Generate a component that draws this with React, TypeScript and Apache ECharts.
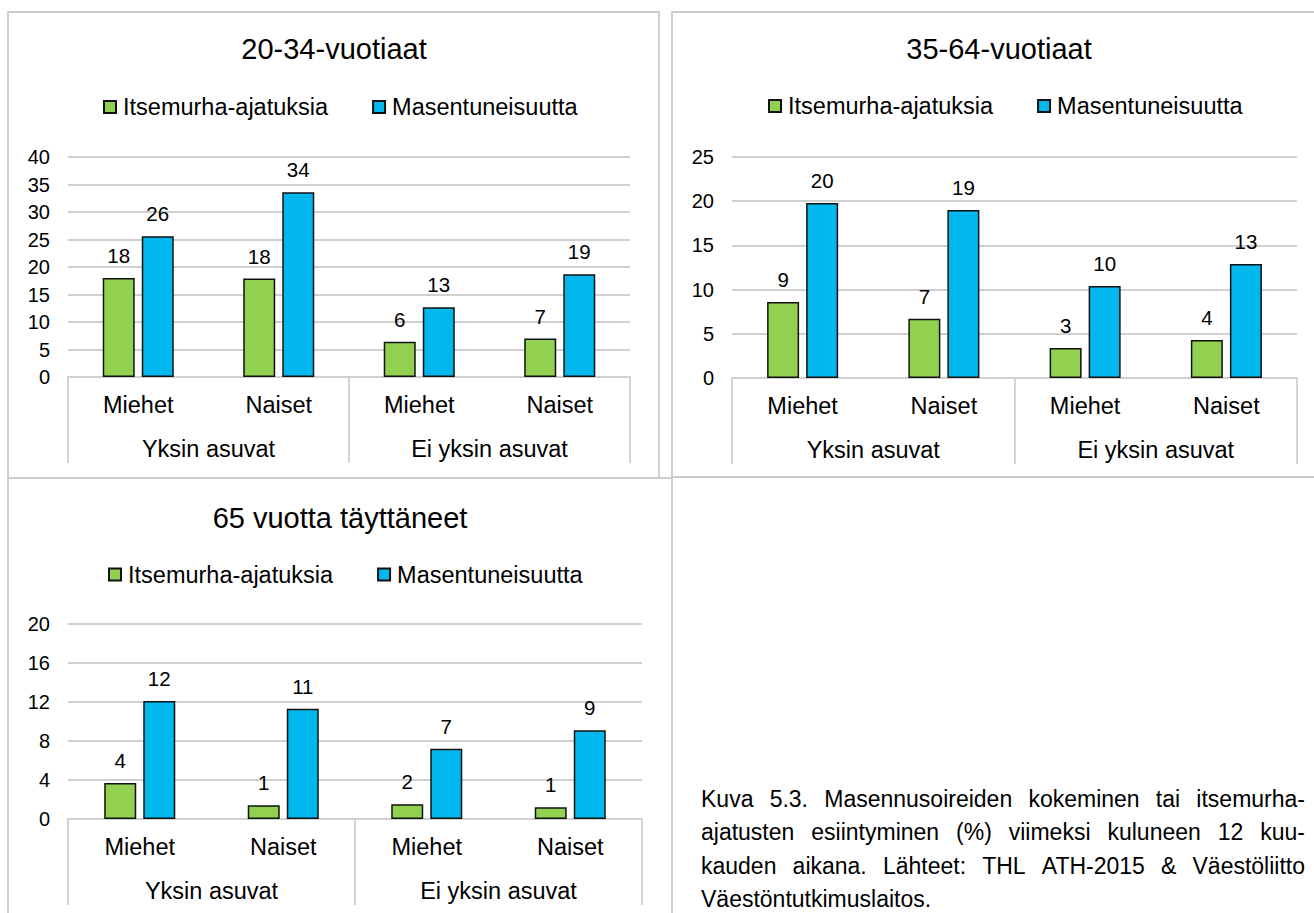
import React, { useEffect, useRef } from 'react';
import * as echarts from 'echarts';

// ---- data ----
const categories = ['Miehet', 'Naiset', 'Miehet', 'Naiset'];
const groups = ['Yksin asuvat', 'Ei yksin asuvat'];
const seriesNames = ['Itsemurha-ajatuksia', 'Masentuneisuutta'];
const panelTitles = ['20-34-vuotiaat', '35-64-vuotiaat', '65 vuotta täyttäneet'];

const suicidal2034 = [18.0, 17.9, 6.4, 7.0];
const depressed2034 = [25.6, 33.6, 12.7, 18.7];
const suicidal3564 = [8.6, 6.7, 3.4, 4.3];
const depressed3564 = [19.8, 19.0, 10.4, 12.9];
const suicidal65 = [3.7, 1.4, 1.52, 1.2];
const depressed65 = [12.1, 11.3, 7.2, 9.1];

const yMaxes = [40, 25, 20];
const yIntervals = [5, 5, 4];

const captionLines = [
  'Kuva 5.3. Masennusoireiden kokeminen tai itsemurha-',
  'ajatusten esiintyminen (%) viimeksi kuluneen 12 kuu-',
  'kauden aikana. Lähteet: THL ATH-2015 & Väestöliitto',
  'Väestöntutkimuslaitos.',
];

const GREEN = '#92D050';
const BLUE = '#00B8EE';
const GRID_GRAY = '#d0d0d0';
const BORDER_GRAY = '#cccccc';
const FONT = "'Liberation Sans', Arial, Helvetica, sans-serif";

export default function App() {
  const ref = useRef<HTMLDivElement>(null);

  useEffect(() => {
    if (!ref.current) return;
    const chart = echarts.init(ref.current, undefined, { renderer: 'svg' });

    const panelData = [
      [suicidal2034, depressed2034],
      [suicidal3564, depressed3564],
      [suicidal65, depressed65],
    ];

    const grids = [
      { left: 68, top: 157, width: 562, height: 220 },
      { left: 732, top: 157, width: 565, height: 221 },
      { left: 68, top: 624, width: 574, height: 195 },
    ];
    const titleCenters = [
      { x: 334, y: 49 },
      { x: 999, y: 49 },
      { x: 340, y: 517.5 },
    ];
    const legendPos = [
      { left: 103, y: 107 },
      { left: 768, y: 106 },
      { left: 108, y: 574.5 },
    ];

    const xAxes: any[] = [];
    const yAxes: any[] = [];
    const series: any[] = [];

    grids.forEach((g, i) => {
      xAxes.push({
        type: 'category',
        gridIndex: i,
        data: categories,
        position: 'bottom',
        axisLine: { show: true, lineStyle: { color: GRID_GRAY, width: 1.8 } },
        axisTick: { show: false },
        axisLabel: { margin: 16, fontSize: 23.5, color: '#000', fontFamily: FONT, interval: 0 },
      });
      xAxes.push({
        type: 'category',
        gridIndex: i,
        data: groups,
        position: 'bottom',
        axisLine: { show: false },
        axisTick: {
          show: true,
          length: 86,
          interval: 0,
          alignWithLabel: false,
          lineStyle: { color: GRID_GRAY, width: 1.8 },
        },
        axisLabel: { margin: 60, fontSize: 23.5, color: '#000', fontFamily: FONT, interval: 0 },
      });
      yAxes.push({
        type: 'value',
        gridIndex: i,
        min: 0,
        max: yMaxes[i],
        interval: yIntervals[i],
        axisLine: { show: false },
        axisTick: { show: false },
        splitLine: { show: true, lineStyle: { color: GRID_GRAY, width: 1.8 } },
        axisLabel: { margin: 18, fontSize: 20, color: '#000', fontFamily: FONT },
      });
      panelData[i].forEach((vals, s) => {
        series.push({
          type: 'bar',
          name: seriesNames[s],
          xAxisIndex: i * 2,
          yAxisIndex: i,
          data: vals,
          barWidth: 32,
          barGap: '22%',
          itemStyle: {
            color: s === 0 ? GREEN : BLUE,
            borderColor: '#111',
            borderWidth: 1.5,
          },
          label: {
            show: true,
            position: 'top',
            distance: 12,
            fontSize: 20.5,
            color: '#000',
            fontFamily: FONT,
            formatter: (p: any) => String(Math.round(p.value)),
          },
        });
      });
    });

    // caption (justified)
    const ctx = document.createElement('canvas').getContext('2d')!;
    const capSize = 23;
    ctx.font = `${capSize}px 'Liberation Sans'`;
    const capLeft = 701;
    const capWidth = 604;
    const capY = [798.5, 832, 865.5, 898.5];
    const captionEls: any[] = [];
    captionLines.forEach((line, li) => {
      if (li < captionLines.length - 1) {
        const words = line.split(' ');
        const ws = words.map((w) => ctx.measureText(w).width);
        const sum = ws.reduce((a, b) => a + b, 0);
        const gap = (capWidth - sum) / (words.length - 1);
        let x = capLeft;
        words.forEach((w, wi) => {
          captionEls.push({
            type: 'text',
            x,
            y: capY[li],
            silent: true,
            style: {
              text: w,
              fontSize: capSize,
              fontFamily: FONT,
              fill: '#000',
              textAlign: 'left',
              textVerticalAlign: 'middle',
            },
          });
          x += ws[wi] + gap;
        });
      } else {
        captionEls.push({
          type: 'text',
          x: capLeft,
          y: capY[li],
          silent: true,
          style: {
            text: line,
            fontSize: capSize,
            fontFamily: FONT,
            fill: '#000',
            textAlign: 'left',
            textVerticalAlign: 'middle',
          },
        });
      }
    });

    const borderStyle = { fill: 'none', stroke: BORDER_GRAY, lineWidth: 1.8 };

    chart.setOption({
      animation: false,
      backgroundColor: '#fff',
      textStyle: { fontFamily: FONT },
      title: titleCenters.map((t, i) => ({
        text: panelTitles[i],
        left: t.x,
        top: t.y - 14.5,
        textAlign: 'center',
        padding: 0,
        textStyle: { fontSize: 29, fontWeight: 'normal', color: '#000', fontFamily: FONT, lineHeight: 29 },
      })),
      legend: legendPos.map((l) => ({
        data: seriesNames,
        left: l.left,
        top: l.y - 12,
        padding: 0,
        icon: 'rect',
        itemWidth: 12,
        itemHeight: 12,
        itemGap: 44,
        selectedMode: false,
        textStyle: { fontSize: 23.5, color: '#000', fontFamily: FONT, lineHeight: 24, padding: [0, 0, 0, 2] },
      })),
      grid: grids.map((g) => ({ ...g, containLabel: false })),
      xAxis: xAxes,
      yAxis: yAxes,
      series,
      graphic: [
        { type: 'rect', silent: true, shape: { x: 8, y: 12, width: 651, height: 466 }, style: borderStyle },
        { type: 'rect', silent: true, shape: { x: 672, y: 12, width: 660, height: 465 }, style: borderStyle },
        { type: 'rect', silent: true, shape: { x: 8, y: 478, width: 664, height: 450 }, style: borderStyle },
        ...captionEls,
      ],
    });

    return () => chart.dispose();
  }, []);

  return (
    <div
      ref={ref}
      style={{ position: 'absolute', left: 0, top: 0, width: 1314, height: 913, background: '#fff' }}
    />
  );
}
